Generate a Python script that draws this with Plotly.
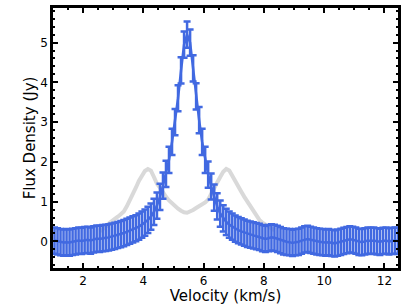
import numpy as np
import plotly.graph_objects as go

# Blue spectrum (velocity channels, km/s) and flux (Jy)
velocity = [round(1.05 + 0.1 * i, 2) for i in range(115)]
flux = [
    0.02, 0.00, -0.02, -0.03, -0.02, -0.03, -0.01, 0.00, 0.02, 0.01,   # 1.05-1.95
    0.03, 0.04, 0.02, 0.05, 0.07, 0.06, 0.08, 0.09, 0.10, 0.12,        # 2.05-2.95
    0.14, 0.16, 0.18, 0.21, 0.24, 0.27, 0.30, 0.33, 0.37, 0.42,        # 3.05-3.95
    0.47, 0.54, 0.62, 0.74, 0.90, 1.12, 1.40, 1.70, 2.05, 2.50,        # 4.05-4.95
    3.00, 3.60, 4.30, 4.95, 5.20, 5.00, 4.35, 3.65, 3.05, 2.50,        # 5.05-5.95
    2.05, 1.68, 1.38, 1.10, 0.88, 0.70, 0.58, 0.49, 0.42, 0.37,        # 6.05-6.95
    0.32, 0.28, 0.25, 0.22, 0.19, 0.17, 0.15, 0.13, 0.11, 0.08,        # 7.05-7.95
    0.06, 0.08, 0.10, 0.09, 0.06, 0.03, 0.00, -0.01, -0.02, -0.04,     # 8.05-8.95
    -0.02, -0.01, 0.02, 0.05, 0.06, 0.04, 0.02, 0.00, -0.01, -0.02,    # 9.05-9.95
    -0.03, -0.02, -0.04, -0.05, -0.03, -0.01, 0.01, 0.03, 0.05, 0.04,  # 10.05-10.95
    0.02, -0.01, -0.02, 0.00, 0.02, 0.01, 0.02, 0.00, -0.01, 0.01,     # 11.05-11.95
    0.02, 0.00, 0.01, 0.02, 0.01,                                      # 12.05-12.45
]
flux_err = [0.33] * len(flux)

# Gray comparison spectrum
gray_velocity = [round(2.55 + 0.1 * i, 2) for i in range(59)]
gray_flux = [
    0.25, 0.30, 0.37, 0.45, 0.50, 0.55, 0.62, 0.68, 0.75, 0.88,
    1.02, 1.18, 1.35, 1.52, 1.65, 1.77, 1.82, 1.78, 1.62, 1.45,
    1.35, 1.22, 1.12, 1.03, 0.95, 0.88, 0.82, 0.77, 0.73, 0.72,
    0.75, 0.79, 0.84, 0.88, 0.93, 0.98, 1.05, 1.18, 1.33, 1.48,
    1.62, 1.75, 1.82, 1.78, 1.65, 1.50, 1.38, 1.25, 1.12, 1.00,
    0.87, 0.74, 0.63, 0.54, 0.47, 0.42, 0.38, 0.33, 0.28,
]
assert len(velocity) == len(flux)
assert len(gray_velocity) == len(gray_flux)

x_ticks = [2, 4, 6, 8, 10, 12]
y_ticks = [0, 1, 2, 3, 4, 5]

BLUE = "#4169E1"
FONT = "DejaVu Sans"

fig = go.Figure()
fig.add_trace(go.Scatter(
    x=gray_velocity, y=gray_flux, mode="lines",
    line=dict(color="#d9d9d9", width=4), showlegend=False,
))
fig.add_trace(go.Scatter(
    x=velocity, y=flux, mode="lines",
    line=dict(color=BLUE, width=2.5),
    error_y=dict(type="data", array=flux_err, visible=True,
                 color=BLUE, thickness=2.5, width=3.5),
    showlegend=False,
))

axis_common = dict(
    showline=True, linecolor="black", linewidth=2.5, mirror="allticks",
    ticks="inside", ticklen=5, tickwidth=2, tickcolor="black",
    showgrid=False, zeroline=False,
    tickfont=dict(family=FONT, size=12, color="black"),
)

fig.update_xaxes(
    range=[1.0, 12.45], tickvals=x_ticks,
    minor=dict(dtick=0.5, ticks="inside", ticklen=2.5, tickwidth=2, tickcolor="black", showgrid=False),
    title=dict(text="Velocity (km/s)", font=dict(family=FONT, size=15, color="black"), standoff=0),
    **axis_common,
)
fig.update_yaxes(
    range=[-0.67, 5.87], tickvals=y_ticks,
    minor=dict(dtick=0.2, ticks="inside", ticklen=2.5, tickwidth=2, tickcolor="black", showgrid=False),
    title=dict(text="Flux Density (Jy)", font=dict(family=FONT, size=15, color="black"), standoff=1),
    **axis_common,
)

fig.update_layout(
    width=407, height=305,
    margin=dict(l=53, r=9, t=5, b=37),
    plot_bgcolor="white", paper_bgcolor="white",
)

fig.write_html(
    "out.html",
    config={"displayModeBar": False},
    post_script="document.body.style.margin='0';document.body.style.padding='0';",
)
